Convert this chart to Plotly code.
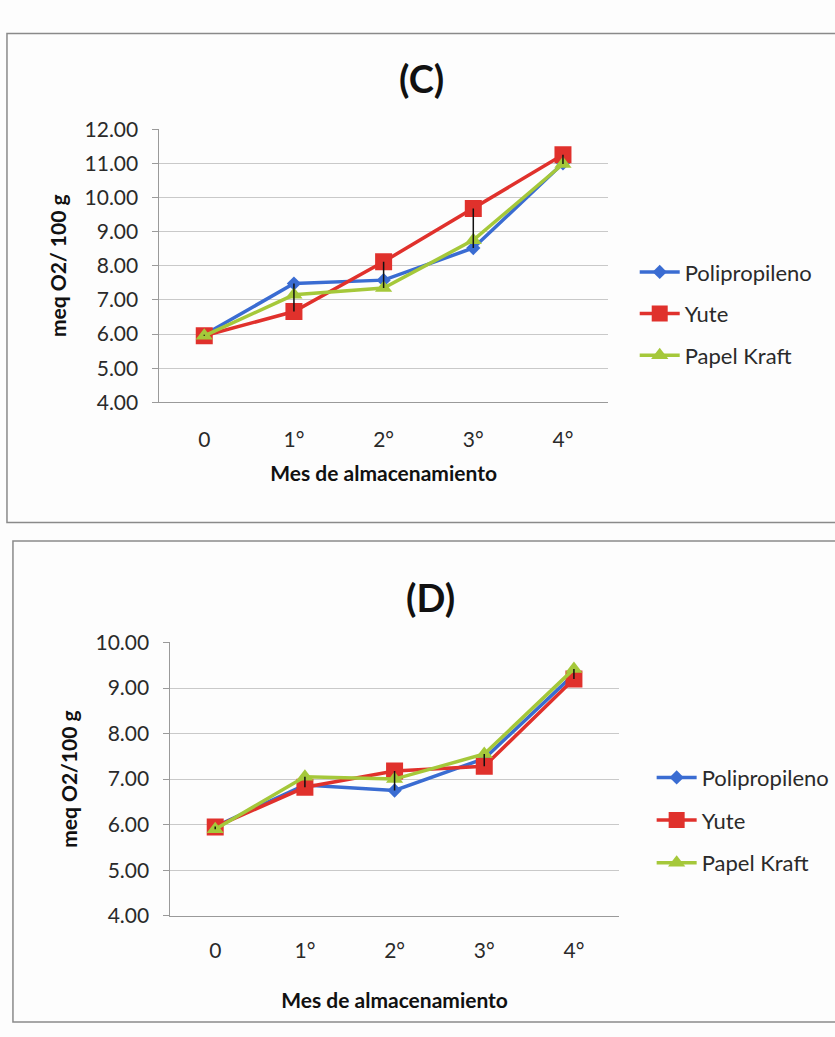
import plotly.graph_objects as go

# Storage months (x categories)
meses = ["0", "1°", "2°", "3°", "4°"]

# Panel (C): peroxide index, meq O2 / 100 g
c_polipropileno = [5.98, 7.48, 7.58, 8.52, 11.00]
c_yute = [5.95, 6.66, 8.12, 9.68, 11.25]
c_papel_kraft = [5.95, 7.15, 7.35, 8.75, 10.98]

# Panel (D): peroxide index, meq O2 / 100 g
d_polipropileno = [5.96, 6.87, 6.75, 7.45, 9.30]
d_yute = [5.95, 6.82, 7.18, 7.28, 9.20]
d_papel_kraft = [5.90, 7.05, 7.00, 7.55, 9.42]

series_names = ["Polipropileno", "Yute", "Papel Kraft"]
colors = ["#3A6CD2", "#E0312C", "#A5C83A"]
symbols = ["diamond", "square", "triangle-up"]
sizes = [11, 17, 15]

W, H = 835, 1037
FONT = "Lato, 'Open Sans', sans-serif"
x_idx = list(range(len(meses)))


def px_x(v):
    return v / W


def px_y(v):
    return 1 - v / H


fig = go.Figure()


def add_panel(series, xa, ya, legend_id):
    for name, vals, col, sym, sz in zip(series_names, series, colors, symbols, sizes):
        fig.add_trace(go.Scatter(
            x=x_idx, y=vals, name=name, mode="lines+markers",
            line=dict(color=col, width=3.5),
            marker=dict(symbol=sym, size=sz, color=col, line=dict(width=0)),
            xaxis=xa, yaxis=ya, legend=legend_id,
            legendgroup=legend_id + name,
        ))
    # high-low lines joining the extreme values of each month
    hx, hy = [], []
    for i in range(len(meses)):
        vals = [s[i] for s in series]
        hx += [i, i, None]
        hy += [max(vals), min(vals), None]
    fig.add_trace(go.Scatter(
        x=hx, y=hy, mode="lines", line=dict(color="#111111", width=1.5),
        showlegend=False, hoverinfo="skip", xaxis=xa, yaxis=ya,
    ))


add_panel([c_polipropileno, c_yute, c_papel_kraft], "x", "y", "legend")
add_panel([d_polipropileno, d_yute, d_papel_kraft], "x2", "y2", "legend2")

axis_font = dict(family=FONT, size=21, color="#2a2a2a")
title_font = dict(family=FONT, size=21, color="#111111")


def xaxis_cfg(domain, anchor, label_gap, title_gap):
    return dict(
        domain=domain, anchor=anchor,
        tickmode="array", tickvals=x_idx, ticktext=meses, range=[-0.5, 4.5],
        showgrid=False, zeroline=False, showline=True, linecolor="#9a9a9a",
        linewidth=1, ticks="", tickfont=axis_font, ticklabelstandoff=label_gap,
        title=dict(text="<b>Mes de almacenamiento</b>", font=title_font,
                   standoff=title_gap),
    )


def yaxis_cfg(domain, anchor, rng, title):
    return dict(
        domain=domain, anchor=anchor, range=rng,
        dtick=1, tickformat=".2f", showgrid=True, gridcolor="#c9c9c9",
        gridwidth=1, zeroline=False, showline=True, linecolor="#9a9a9a",
        linewidth=1, ticks="outside", ticklen=6, tickcolor="#9a9a9a",
        tickfont=axis_font, ticklabelstandoff=10,
        title=dict(text=title, font=title_font, standoff=12),
    )


legend_font = dict(family=FONT, size=22, color="#2a2a2a")

fig.update_layout(
    width=W, height=H,
    margin=dict(l=0, r=0, t=0, b=0),
    paper_bgcolor="#fdfdfd", plot_bgcolor="#fdfdfd",
    xaxis=xaxis_cfg([px_x(160), px_x(610)], "y", 18, 16),
    yaxis=yaxis_cfg([px_y(398), px_y(118)], "x", [4, 12], "<b>meq O2/ 100 g</b>"),
    xaxis2=xaxis_cfg([px_x(171), px_x(621)], "y2", 16, 32),
    yaxis2=yaxis_cfg([px_y(924), px_y(644)], "x2", [4, 10], "<b>meq O2/100 g</b>"),
    legend=dict(x=px_x(637), y=px_y(243), xanchor="left", yanchor="top",
                bgcolor="rgba(0,0,0,0)", font=legend_font,
                traceorder="grouped", tracegroupgap=10, itemwidth=40),
    legend2=dict(x=px_x(654), y=px_y(761), xanchor="left", yanchor="top",
                 bgcolor="rgba(0,0,0,0)", font=legend_font,
                 traceorder="grouped", tracegroupgap=11, itemwidth=40),
    annotations=[
        dict(text="<b>(C)</b>", x=px_x(423), y=px_y(66), xref="paper", yref="paper",
             xanchor="center", yanchor="middle", showarrow=False,
             font=dict(family=FONT, size=38, color="#111111")),
        dict(text="<b>(D)</b>", x=px_x(432), y=px_y(597), xref="paper", yref="paper",
             xanchor="center", yanchor="middle", showarrow=False,
             font=dict(family=FONT, size=38, color="#111111")),
    ],
    shapes=[
        dict(type="rect", xref="paper", yref="paper",
             x0=px_x(7), x1=px_x(840), y0=px_y(521), y1=px_y(20),
             line=dict(color="#8a8a8a", width=1.5), fillcolor="rgba(0,0,0,0)"),
        dict(type="rect", xref="paper", yref="paper",
             x0=px_x(13), x1=px_x(840), y0=px_y(1033), y1=px_y(540),
             line=dict(color="#8a8a8a", width=1.5), fillcolor="rgba(0,0,0,0)"),
    ],
    showlegend=True,
)

fig.write_html("out.html")
